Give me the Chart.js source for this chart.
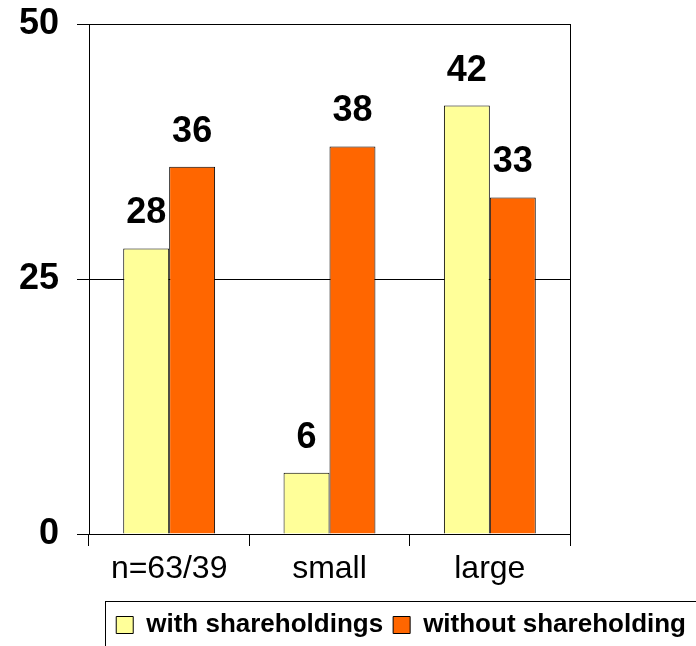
<!DOCTYPE html>
<html>
<head>
<meta charset="utf-8">
<script src="https://cdn.jsdelivr.net/npm/chart.js@4/dist/chart.umd.min.js"></script>
<style>
  html, body { margin: 0; padding: 0; background: #ffffff; }
  #wrap { width: 696px; height: 646px; }
</style>
</head>
<body>
<div id="wrap"><canvas id="chart" width="696" height="646"></canvas></div>
<script>
// Share of firms by size group, with and without shareholdings (%)
const categories = ['n=63/39', 'small', 'large'];
const withShareholdings = [28, 6, 42];
const withoutShareholding = [36, 38, 33];
const seriesNames = ['with shareholdings', 'without shareholding'];
const yTicks = [0, 25, 50];

const FONT = "'Liberation Sans', Arial, Helvetica, sans-serif";

// Value labels drawn above every bar, taken from the bar elements themselves
const valueLabels = {
  id: 'valueLabels',
  afterDatasetsDraw(chart) {
    const ctx = chart.ctx;
    ctx.save();
    ctx.font = 'bold 36px ' + FONT;
    ctx.fillStyle = '#000000';
    ctx.textAlign = 'center';
    ctx.textBaseline = 'alphabetic';
    chart.data.datasets.forEach((ds, di) => {
      chart.getDatasetMeta(di).data.forEach((bar, i) => {
        ctx.fillText(String(ds.data[i]), bar.x, bar.y - 25);
      });
    });
    ctx.restore();
  }
};

// Frame around the legend row
const legendFrame = {
  id: 'legendFrame',
  afterDraw(chart) {
    const lg = chart.legend;
    if (!lg || !lg.legendHitBoxes || !lg.legendHitBoxes.length) return;
    const ctx = chart.ctx;
    const x0 = Math.round(lg.legendHitBoxes[0].left - 11) + 0.5;
    const y0 = Math.round(lg.top - 1) + 0.5;
    ctx.save();
    ctx.strokeStyle = '#000000';
    ctx.lineWidth = 1;
    ctx.strokeRect(x0, y0, chart.width - x0 + 10, chart.height - y0 + 10);
    ctx.restore();
  }
};

new Chart(document.getElementById('chart'), {
  type: 'bar',
  data: {
    labels: categories,
    datasets: [
      {
        label: seriesNames[0],
        data: withShareholdings,
        backgroundColor: '#FFFF99',
        borderColor: '#000000',
        borderWidth: 1,
        categoryPercentage: 0.573,
        barPercentage: 1.0
      },
      {
        label: seriesNames[1],
        data: withoutShareholding,
        backgroundColor: '#FF6600',
        borderColor: '#000000',
        borderWidth: 1,
        categoryPercentage: 0.573,
        barPercentage: 1.0
      }
    ]
  },
  options: {
    responsive: false,
    animation: false,
    devicePixelRatio: 1,
    layout: { padding: { top: 24, left: 0, right: 0, bottom: 0 } },
    plugins: {
      tooltip: { enabled: false },
      legend: {
        position: 'bottom',
        align: 'end',
        maxHeight: 44,
        labels: {
          boxWidth: 17,
          boxHeight: 17,
          padding: 10,
          color: '#000000',
          font: { family: FONT, size: 26, weight: 'bold' }
        }
      }
    },
    scales: {
      x: {
        offset: true,
        grid: {
          display: true,
          drawOnChartArea: false,
          drawTicks: true,
          tickLength: 12,
          color: '#000000',
          offset: true
        },
        border: { display: true, color: '#000000', width: 1 },
        ticks: {
          color: '#000000',
          padding: 4,
          font: { family: FONT, size: 32, weight: 'normal' }
        },
        afterFit(scale) { scale.height = 68; }
      },
      y: {
        position: 'left',
        min: 0,
        max: 50,
        afterBuildTicks(scale) { scale.ticks = yTicks.map(v => ({ value: v })); },
        grid: {
          color: '#000000',
          tickLength: 12,
          drawTicks: true
        },
        border: { display: true, color: '#000000', width: 1 },
        ticks: {
          color: '#000000',
          padding: 18,
          font: { family: FONT, size: 36, weight: 'bold' }
        },
        afterFit(scale) {
          scale.width = 89;
          scale.paddingTop = 0;
          scale.paddingBottom = 0;
        }
      },
      yRight: {
        position: 'right',
        min: 0,
        max: 50,
        grid: { display: true, drawOnChartArea: false, drawTicks: false },
        border: { display: true, color: '#000000', width: 1 },
        ticks: { display: false },
        afterFit(scale) {
          scale.width = 126;
          scale.paddingTop = 0;
          scale.paddingBottom = 0;
        }
      }
    }
  },
  plugins: [valueLabels, legendFrame]
});
</script>
</body>
</html>
